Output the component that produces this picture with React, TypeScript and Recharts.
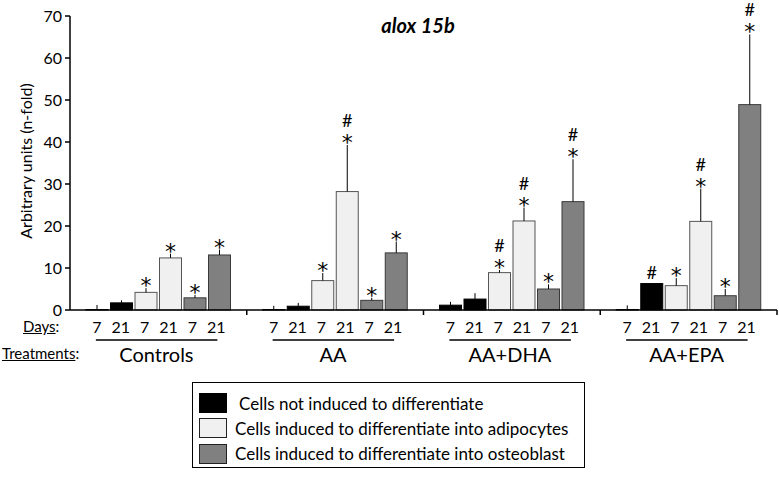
import { BarChart, Bar, XAxis, YAxis, ErrorBar } from "recharts";

const GROUPS = ["Controls", "AA", "AA+DHA", "AA+EPA"];
const DAYS = ["7", "21", "7", "21", "7", "21"];
const Y_TICKS = [0, 10, 20, 30, 40, 50, 60, 70];

// not induced (black)
const NOT_7 = [0.1, 0.1, 1.15, 0.1];
const NOT_7_ERR = [1.1, 0.9, 0.8, 1.0];
const NOT_7_MARK = ["", "", "", ""];
const NOT_21 = [1.7, 0.9, 2.6, 6.3];
const NOT_21_ERR = [0.6, 0.8, 1.4, 0];
const NOT_21_MARK = ["", "", "", "#"];

// adipocytes (light)
const ADIPO_7 = [4.2, 7.0, 8.9, 5.8];
const ADIPO_7_ERR = [1.0, 1.8, 0.6, 1.8];
const ADIPO_7_MARK = ["*", "*", "#*", "*"];
const ADIPO_21 = [12.4, 28.2, 21.2, 21.1];
const ADIPO_21_ERR = [1.0, 11.1, 3.2, 7.8];
const ADIPO_21_MARK = ["*", "#*", "#*", "#*"];

// osteoblast (dark)
const OSTEO_7 = [2.9, 2.3, 5.0, 3.4];
const OSTEO_7_ERR = [0.7, 0.6, 1.1, 1.6];
const OSTEO_7_MARK = ["*", "*", "*", "*"];
const OSTEO_21 = [13.1, 13.6, 25.8, 48.9];
const OSTEO_21_ERR = [1.3, 2.7, 10.1, 16.7];
const OSTEO_21_MARK = ["*", "*", "#*", "#*"];

const BLACK = { fill: "#000000", stroke: "#000000" };
const LIGHT = { fill: "#f0f0f0", stroke: "#555555" };
const DARK = { fill: "#808080", stroke: "#3a3a3a" };

const SERIES = [
  { key: "n7", values: NOT_7, errors: NOT_7_ERR, marks: NOT_7_MARK, ...BLACK },
  { key: "n21", values: NOT_21, errors: NOT_21_ERR, marks: NOT_21_MARK, ...BLACK },
  { key: "a7", values: ADIPO_7, errors: ADIPO_7_ERR, marks: ADIPO_7_MARK, ...LIGHT },
  { key: "a21", values: ADIPO_21, errors: ADIPO_21_ERR, marks: ADIPO_21_MARK, ...LIGHT },
  { key: "o7", values: OSTEO_7, errors: OSTEO_7_ERR, marks: OSTEO_7_MARK, ...DARK },
  { key: "o21", values: OSTEO_21, errors: OSTEO_21_ERR, marks: OSTEO_21_MARK, ...DARK },
];

const LEGEND = [
  { label: "Cells not induced to differentiate", ...BLACK, stroke: "#000" },
  { label: "Cells induced to differentiate into adipocytes", ...LIGHT, stroke: "#222" },
  { label: "Cells induced to differentiate into osteoblast", ...DARK, stroke: "#222" },
];

const data = GROUPS.map((group, i) => {
  const row: Record<string, any> = { group };
  SERIES.forEach((s) => {
    row[s.key] = s.values[i];
    row[`${s.key}_err`] = [0, s.errors[i]];
  });
  return row;
});

const W = 779;
const H = 478;
const MARGIN = { top: 16, right: 2, left: 20, bottom: 108 };
const Y_AXIS_W = 50;
const BAND = (W - MARGIN.left - Y_AXIS_W - MARGIN.right) / GROUPS.length;
const FONT = "Lato, 'Open Sans', sans-serif";
const STAR_FONT = "'DejaVu Sans', sans-serif";

function makeShape(s: (typeof SERIES)[number]) {
  return (props: any) => {
    const { x, y, width, height, payload } = props;
    const i = GROUPS.indexOf(payload.group);
    const value = s.values[i];
    const mark = s.marks[i];
    const pxPerUnit = value > 0 ? height / value : 0;
    const top = y - s.errors[i] * pxPerUnit;
    const cx = x + width / 2;
    const hasStar = mark.includes("*");
    const hasHash = mark.includes("#");
    return (
      <g>
        <rect x={x} y={y} width={width} height={Math.max(height, 0)} fill={s.fill} stroke={s.stroke} strokeWidth={1} />
        {hasStar && (
          <text x={cx} y={top + 5} textAnchor="middle" fontSize={22} fontFamily={STAR_FONT} fill="#000">
            *
          </text>
        )}
        {hasHash && (
          <text x={cx} y={hasStar ? top - 18 : top - 4.5} textAnchor="middle" fontSize={18} fontFamily={FONT} fill="#000">
            #
          </text>
        )}
      </g>
    );
  };
}

function GroupTick(props: any) {
  const { x, y, payload } = props;
  return (
    <g>
      <line x1={x + BAND / 2} x2={x + BAND / 2} y1={y} y2={y + 5} stroke="#000" strokeWidth={1.5} />
      {DAYS.map((d, i) => (
        <text
          key={i}
          x={x - 61.5 + 23.9 * i}
          y={y + 16}
          textAnchor="middle"
          dominantBaseline="central"
          fontSize={16}
          fontFamily={FONT}
          fill="#000"
        >
          {d}
        </text>
      ))}
      <line x1={x - 62.5} x2={x + 59} y1={y + 30} y2={y + 30} stroke="#000" strokeWidth={1.5} />
      <text
        x={x - 2}
        y={y + 44}
        textAnchor="middle"
        dominantBaseline="central"
        fontSize={20}
        fontFamily={FONT}
        fill="#000"
      >
        {payload.value}
      </text>
    </g>
  );
}

export default function App() {
  return (
    <div style={{ position: "absolute", left: 0, top: 0, width: W, height: H, background: "#fff", fontFamily: FONT, color: "#000" }}>
      <BarChart width={W} height={H} data={data} margin={MARGIN} barSize={22} barGap={2.5}>
        <XAxis
          dataKey="group"
          height={60}
          tick={<GroupTick />}
          tickLine={false}
          tickSize={0}
          tickMargin={0}
          interval={0}
          axisLine={{ stroke: "#000", strokeWidth: 1.5 }}
        />
        <YAxis
          width={Y_AXIS_W}
          domain={[0, 70]}
          ticks={Y_TICKS}
          interval={0}
          tick={{ fontSize: 16, fill: "#000", fontFamily: FONT }}
          tickSize={5}
          tickMargin={3}
          tickLine={{ stroke: "#000", strokeWidth: 1.5 }}
          axisLine={{ stroke: "#000", strokeWidth: 1.5 }}
        />
        {SERIES.map((s) => (
          <Bar key={s.key} dataKey={s.key} fill={s.fill} isAnimationActive={false} shape={makeShape(s)}>
            <ErrorBar dataKey={`${s.key}_err`} width={0} stroke="#000" strokeWidth={1} direction="y" isAnimationActive={false} />
          </Bar>
        ))}
      </BarChart>

      <div style={{ position: "absolute", left: 418, top: 25, transform: "translate(-50%, -50%)", fontSize: 20, fontWeight: 700, fontStyle: "italic", whiteSpace: "nowrap" }}>
        alox 15b
      </div>
      <div style={{ position: "absolute", left: 25, top: 161, transform: "translate(-50%, -50%) rotate(-90deg)", fontSize: 16, whiteSpace: "nowrap" }}>
        Arbitrary units (n-fold)
      </div>
      <div style={{ position: "absolute", left: 23, top: 326, transform: "translateY(-50%)", fontSize: 15, whiteSpace: "nowrap" }}>
        <span style={{ textDecoration: "underline" }}>Days</span>:
      </div>
      <div style={{ position: "absolute", left: 2, top: 353, transform: "translateY(-50%)", fontSize: 15, whiteSpace: "nowrap" }}>
        <span style={{ textDecoration: "underline" }}>Treatments</span>:
      </div>

      <div style={{ position: "absolute", left: 192, top: 382, width: 393, height: 86, border: "1px solid #000", boxSizing: "border-box" }}>
        {LEGEND.map((l, i) => (
          <div key={i} style={{ position: "absolute", left: 6, top: 10 + i * 25.3, height: 20, display: "flex", alignItems: "center" }}>
            <div style={{ width: 28, height: 20, background: l.fill, border: `1.5px solid ${l.stroke}`, boxSizing: "border-box" }} />
            <span style={{ marginLeft: i === 0 ? 12 : 8, fontSize: 17, whiteSpace: "nowrap" }}>{l.label}</span>
          </div>
        ))}
      </div>
    </div>
  );
}
